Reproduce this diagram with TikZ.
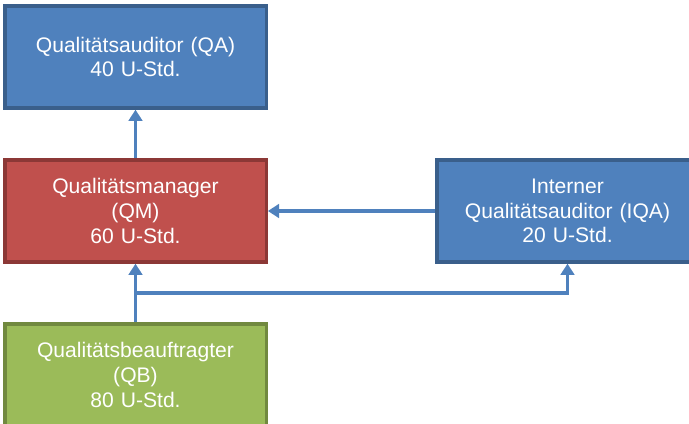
\documentclass[tikz,border=0pt]{standalone}
\usepackage{fontspec}
\setmainfont{Liberation Sans}
\usetikzlibrary{calc,arrows.meta}
\definecolor{blaufill}{HTML}{4F81BD}
\definecolor{blaurand}{HTML}{3A5F8B}
\definecolor{rotfill}{HTML}{C0504D}
\definecolor{rotrand}{HTML}{8C3836}
\definecolor{gruenfill}{HTML}{9BBB59}
\definecolor{gruenrand}{HTML}{71893F}
\tikzstyle{rolle} = [rectangle, line width=2.4pt, minimum width=6.475cm, minimum height=2.55cm, text width=6.3cm, text centered, text=white, font=\fontsize{15}{17.5}\selectfont]
\tikzstyle{pfeil} = [draw=blaufill, line width=2.8pt, -{Triangle[length=0.28cm,width=0.34cm]}]

\begin{document}
\begin{tikzpicture}

        \clip (0,0) rectangle (17.225,-10.6);

        \node (QA) [rolle, fill=blaufill, draw=blaurand] at (3.3875,-1.425) {Qualitätsauditor (QA)\\40 U-Std.};
        \node (QM) [rolle, fill=rotfill, draw=rotrand] at (3.3875,-5.275) {Qualitätsmanager\\(QM)\\60 U-Std.};
        \node (IQA) [rolle, fill=blaufill, draw=blaurand] at (14.1875,-5.275) {Interner\\Qualitätsauditor (IQA)\\20 U-Std.};
        \node (QB) [rolle, fill=gruenfill, draw=gruenrand] at (3.3875,-9.375) {Qualitätsbeauftragter\\(QB)\\80 U-Std.};

        \coordinate (knick) at ($(QB.north)!0.5!(QM.south)$);

        \draw[pfeil] (QM.north) -- (QA.south);
        \draw[pfeil] (IQA.west) -- (QM.east);
        \draw[pfeil] (QB.north) -- (QM.south);
        \draw[pfeil] (knick) -| (IQA.south);

    \end{tikzpicture}
\end{document}
